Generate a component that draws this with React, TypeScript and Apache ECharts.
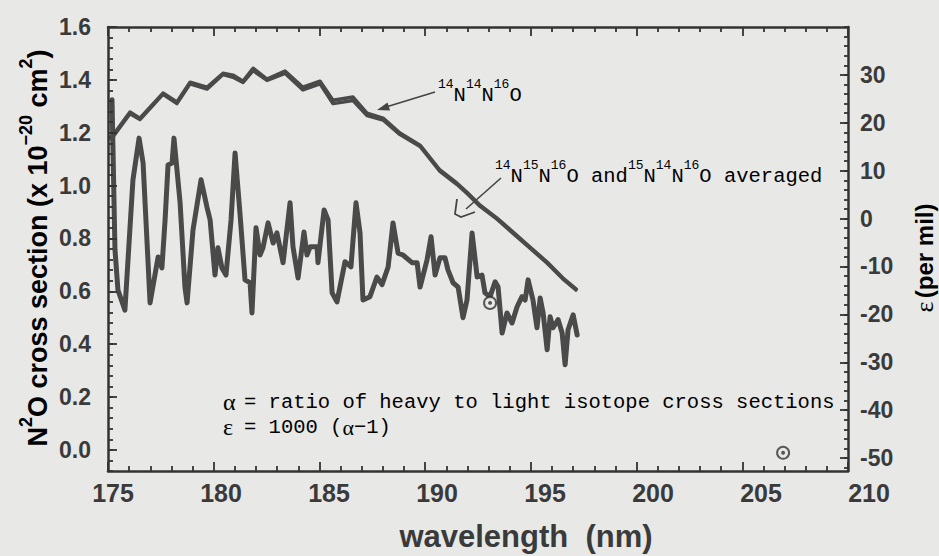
import React, { useEffect, useRef } from "react";
import * as echarts from "echarts";

// ---- tick labels ----
const xTicks = [175, 180, 185, 190, 195, 200, 205, 210];
const leftTicks = [0, 0.2, 0.4, 0.6, 0.8, 1.0, 1.2, 1.4, 1.6];
const rightTicks = [-50, -40, -30, -20, -10, 0, 10, 20, 30];

// ---- cross section curves (left axis) ----
const topWl = [175.05, 175.24, 176.04, 176.51, 177.6, 178.26, 178.88, 179.68, 180.44, 180.91, 181.39, 181.86, 182.52, 183.37, 184.22, 185.03, 185.64, 186.59, 187.25, 188.01, 188.81, 189.76, 190.7, 191.51, 191.98, 192.6, 193.4, 194.16, 194.96, 195.77, 196.52, 197.19];
const cs1414 = [1.18, 1.191, 1.278, 1.255, 1.35, 1.316, 1.391, 1.372, 1.425, 1.418, 1.395, 1.444, 1.403, 1.433, 1.372, 1.395, 1.323, 1.335, 1.274, 1.255, 1.199, 1.153, 1.059, 1.009, 0.975, 0.926, 0.877, 0.824, 0.767, 0.711, 0.65, 0.605];
const csAvg = [1.175, 1.185, 1.272, 1.25, 1.345, 1.31, 1.385, 1.365, 1.42, 1.41, 1.39, 1.435, 1.398, 1.425, 1.362, 1.385, 1.31, 1.322, 1.265, 1.248, 1.193, 1.148, 1.054, 1.004, 0.97, 0.921, 0.873, 0.819, 0.763, 0.706, 0.646, 0.601];

// ---- epsilon curve (right axis, per mil) ----
const epsWl = [175.19, 175.33, 175.47, 175.8, 176.18, 176.47, 176.66, 176.99, 177.37, 177.55,
  177.7, 177.84, 178.03, 178.12, 178.41, 178.64, 178.74, 179.02, 179.4, 179.68,
  179.83, 180.06, 180.2, 180.39, 180.58, 180.82, 181.01, 181.24, 181.48, 181.72,
  181.81, 182.0, 182.19, 182.33, 182.57, 182.81, 182.99, 183.28, 183.61, 183.75,
  183.99, 184.27, 184.41, 184.56, 184.89, 184.93, 185.22, 185.41, 185.6, 185.83,
  186.21, 186.49, 186.73, 186.92, 187.06, 187.39, 187.72, 187.96, 188.25, 188.48,
  188.72, 188.95, 189.38, 189.62, 189.76, 190.09, 190.28, 190.47, 190.7, 190.94,
  191.08, 191.32, 191.56, 191.79, 191.98, 192.22, 192.46, 192.69, 192.83, 193.07,
  193.31, 193.45, 193.64, 193.87, 194.11, 194.35, 194.58, 194.73, 194.87, 195.1,
  195.29, 195.44, 195.58, 195.77, 195.91, 196.05, 196.29, 196.48, 196.62, 196.76,
  197.0, 197.19];
const epsVal = [24.8, -6.5, -14.9, -19.1, 8.1, 16.8, 11.6, -17.6, -8.0, -10.3,
  -0.3, 11.2, 11.6, 16.8, 3.3, -14.3, -17.6, -2.4, 8.1, 2.4,
  -0.3, -11.8, -6.1, -10.3, -11.8, -0.3, 13.7, 1.2, -12.8, -13.4,
  -19.7, -1.9, -7.6, -6.1, -0.9, -5.1, -3.0, -9.2, 3.3, -5.9,
  -12.4, -2.8, -7.6, -5.9, -5.9, -9.2, 1.8, -0.3, -15.5, -17.4,
  -9.0, -10.1, 3.3, -3.0, -17.0, -16.3, -12.2, -13.8, -10.1, -0.9,
  -7.2, -7.6, -9.2, -9.2, -14.3, -8.6, -3.8, -11.8, -8.2, -8.2,
  -10.7, -13.4, -14.3, -20.7, -17.0, -3.0, -12.2, -11.8, -15.5, -16.3,
  -13.2, -14.3, -23.9, -19.7, -21.8, -18.4, -16.3, -17.0, -12.8, -17.0,
  -22.8, -16.6, -19.7, -27.4, -20.5, -22.8, -21.1, -23.9, -30.5, -23.2,
  -20.1, -24.3];

// ---- circled-dot marks (right axis) ----
const ringWl = [193.07, 206.93];
const ringEps = [-17.6, -48.9];

const W = 939;
const H = 556;
const INK = "#3a3a3a";
const AX = "#333333";
const LINE = "#4a4a4a";
const BG = "#e8e8e6";
const SANS = "'Liberation Sans', Arial, Helvetica, sans-serif";
const MONO = "'Liberation Mono', 'Courier New', monospace";

const LEFT_MIN = -0.08, LEFT_MAX = 1.6;
const RIGHT_MIN = -52.7, RIGHT_MAX = 40;

const leftMinor = Array.from({ length: 43 }, (_, i) => Math.round((LEFT_MIN + i * 0.04) * 100) / 100);
const rightMinor = Array.from({ length: 47 }, (_, i) => -52 + i * 2);

const supRich = (main: number, sup: number, family: string, weight: string) => ({
  m: { fontSize: main, fontFamily: family, fontWeight: weight, color: INK, lineHeight: main + 8, verticalAlign: "bottom" },
  s: { fontSize: sup, fontFamily: family, fontWeight: weight, color: INK, lineHeight: sup - 4, verticalAlign: "top" },
});

const mkLine = () => ({ show: true, onZero: false, lineStyle: { color: AX, width: 2.5 } });
const noLine = () => ({ show: false, onZero: false });
const mkTick = (len: number, custom?: number[]) => {
  const t: any = { show: true, inside: true, length: len, lineStyle: { color: AX, width: 1.8 } };
  if (custom) t.customValues = custom;
  return t;
};
const mkLabel = (size: number, margin: number) => ({
  color: INK, fontFamily: SANS, fontWeight: "bold", fontSize: size, margin,
});

export default function App() {
  const ref = useRef<HTMLDivElement>(null);
  useEffect(() => {
    if (!ref.current) return;
    const chart = echarts.init(ref.current, undefined, { renderer: "svg" });

    const option: any = {
      animation: false,
      grid: [
        { left: 108, top: 27, right: 91, bottom: 85 },
        { left: 113, top: 27, right: 70, bottom: 85 },
      ],
      xAxis: [
        {
          gridIndex: 0, type: "value", position: "bottom", min: 175, max: 210, interval: 5, z: 10,
          axisLine: mkLine(), splitLine: { show: false },
          axisTick: mkTick(9),
          minorTick: { show: true, splitNumber: 5, length: 5, lineStyle: { color: AX, width: 1.8 } },
          axisLabel: { show: false },
        },
        {
          gridIndex: 1, type: "value", position: "bottom", min: 175, max: 210, interval: 5, z: 10,
          axisLine: noLine(), axisTick: { show: false }, splitLine: { show: false },
          axisLabel: { ...mkLabel(25, 9), customValues: xTicks },
        },
        {
          gridIndex: 0, type: "value", position: "top", min: 175, max: 210, interval: 5, z: 10,
          axisLine: mkLine(), splitLine: { show: false },
          axisTick: mkTick(9),
          minorTick: { show: true, splitNumber: 5, length: 5, lineStyle: { color: AX, width: 1.8 } },
          axisLabel: { show: false },
        },
      ],
      yAxis: [
        {
          gridIndex: 0, type: "value", position: "left", min: LEFT_MIN, max: LEFT_MAX, z: 10,
          axisLine: mkLine(), splitLine: { show: false },
          axisTick: mkTick(9, leftTicks),
          axisLabel: { ...mkLabel(23, 17), customValues: leftTicks, formatter: (v: number) => Number(v).toFixed(1) },
        },
        {
          gridIndex: 0, type: "value", position: "right", min: RIGHT_MIN, max: RIGHT_MAX, z: 10,
          axisLine: mkLine(), splitLine: { show: false },
          axisTick: mkTick(8, rightTicks),
          axisLabel: { ...mkLabel(23, 12), customValues: rightTicks, formatter: (v: number) => String(v) },
        },
        {
          gridIndex: 0, type: "value", position: "left", min: LEFT_MIN, max: LEFT_MAX, z: 10,
          axisLine: noLine(), splitLine: { show: false }, axisLabel: { show: false },
          axisTick: mkTick(5, leftMinor),
        },
        {
          gridIndex: 0, type: "value", position: "right", min: RIGHT_MIN, max: RIGHT_MAX, z: 10,
          axisLine: noLine(), splitLine: { show: false }, axisLabel: { show: false },
          axisTick: mkTick(4, rightMinor),
        },
        { gridIndex: 1, type: "value", show: false, min: 0, max: 1, axisLine: noLine() },
      ],
      series: [
        {
          type: "line", xAxisIndex: 0, yAxisIndex: 1, symbol: "none", silent: true,
          data: epsWl.map((w, i) => [w, epsVal[i]]),
          lineStyle: { color: LINE, width: 5, join: "round", cap: "round" },
        },
        {
          type: "line", xAxisIndex: 0, yAxisIndex: 0, symbol: "none", silent: true,
          data: topWl.map((w, i) => [w, csAvg[i]]),
          lineStyle: { color: LINE, width: 3.5, join: "round" },
        },
        {
          type: "line", xAxisIndex: 0, yAxisIndex: 0, symbol: "none", silent: true,
          data: topWl.map((w, i) => [w, cs1414[i]]),
          lineStyle: { color: LINE, width: 3.5, join: "round" },
        },
        {
          type: "scatter", xAxisIndex: 0, yAxisIndex: 1, symbol: "circle", symbolSize: 12, silent: true,
          data: ringWl.map((w, i) => [w, ringEps[i]]),
          itemStyle: { color: BG, borderColor: AX, borderWidth: 2 }, z: 5,
        },
        {
          type: "scatter", xAxisIndex: 0, yAxisIndex: 1, symbol: "circle", symbolSize: 4, silent: true,
          data: ringWl.map((w, i) => [w, ringEps[i]]),
          itemStyle: { color: AX }, z: 6,
        },
      ],
      graphic: [
        {
          type: "text", x: 34, y: 248, rotation: Math.PI / 2,
          style: {
            text: "{m|N}{s|2}{m|O cross section (x 10}{s|\u221220}{m| cm}{s|2}{m|)}",
            align: "center", verticalAlign: "middle",
            rich: supRich(27, 18, SANS, "bold"),
          },
        },
        {
          type: "text", x: 924, y: 258, rotation: Math.PI / 2,
          style: {
            text: "{e|\u03b5} {m|(per mil)}",
            align: "center", verticalAlign: "middle",
            rich: {
              e: { fontSize: 26, fontFamily: "'Liberation Serif', serif", color: INK },
              m: { fontSize: 24, fontFamily: SANS, fontWeight: "bold", color: INK },
            },
          },
        },
        {
          type: "text", x: 526, y: 536,
          style: { text: "wavelength  (nm)", align: "center", verticalAlign: "middle", fontSize: 31, fontWeight: "bold", fontFamily: SANS, fill: INK },
        },
        {
          type: "text", x: 438, y: 92,
          style: {
            text: "{s|14}{m|N}{s|14}{m|N}{s|16}{m|O}",
            align: "left", verticalAlign: "middle",
            rich: supRich(20.5, 13, MONO, "normal"),
          },
        },
        { type: "line", shape: { x1: 435, y1: 92, x2: 386, y2: 107 }, style: { stroke: "#444", lineWidth: 1.6 } },
        { type: "polygon", shape: { points: [[377, 110], [390, 110.5], [387.5, 102.5]] }, style: { fill: "#444" } },
        {
          type: "text", x: 495, y: 173,
          style: {
            text: "{s|14}{m|N}{s|15}{m|N}{s|16}{m|O and}{s|15}{m|N}{s|14}{m|N}{s|16}{m|O averaged}",
            align: "left", verticalAlign: "middle",
            rich: supRich(20.5, 13, MONO, "normal"),
          },
        },
        { type: "polyline", shape: { points: [[501, 178], [466, 209]] }, style: { stroke: "#444", lineWidth: 1.6, fill: "none" } },
        { type: "polyline", shape: { points: [[457, 199], [455, 214], [461, 217], [475, 212]] }, style: { stroke: "#444", lineWidth: 1.8, fill: "none" } },
        {
          type: "text", x: 223, y: 402,
          style: {
            text: "{g|\u03b1}{m|= ratio of heavy to light isotope cross sections}",
            align: "left", verticalAlign: "middle",
            rich: {
              g: { fontSize: 24, fontFamily: "'Liberation Serif', serif", color: INK, width: 21 },
              m: { fontSize: 20.5, fontFamily: MONO, color: INK },
            },
          },
        },
        {
          type: "text", x: 223, y: 427,
          style: {
            text: "{g|\u03b5}{m|= 1000 (}{a|\u03b1}{m|\u22121)}",
            align: "left", verticalAlign: "middle",
            rich: {
              g: { fontSize: 24, fontFamily: "'Liberation Serif', serif", color: INK, width: 21 },
              a: { fontSize: 22, fontFamily: "'Liberation Serif', serif", color: INK },
              m: { fontSize: 20.5, fontFamily: MONO, color: INK },
            },
          },
        },
      ],
    };
    chart.setOption(option);
    return () => chart.dispose();
  }, []);
  return (
    <div
      ref={ref}
      style={{ position: "fixed", left: 0, top: 0, width: W, height: H, background: BG }}
    />
  );
}
